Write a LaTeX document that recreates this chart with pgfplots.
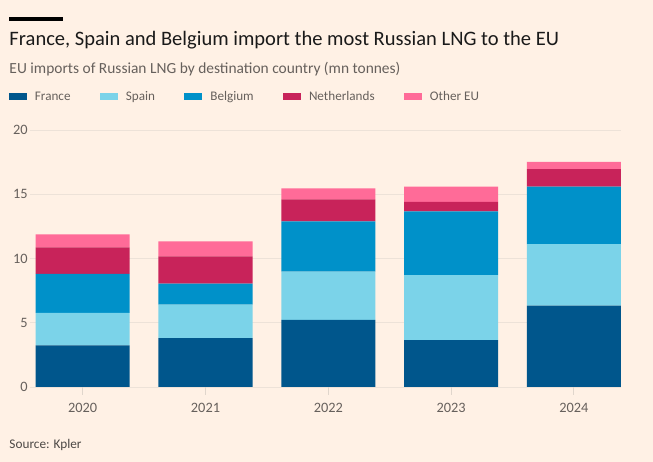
\documentclass[border=0pt]{standalone}
\usepackage{pgfplots}
\pgfplotsset{compat=1.18}
\usepackage{fontspec}
\setmainfont{Carlito}
\definecolor{bg}{HTML}{FFF1E5}
\definecolor{cfr}{HTML}{00568C}
\definecolor{csp}{HTML}{7BD3E9}
\definecolor{cbe}{HTML}{0091C9}
\definecolor{cnl}{HTML}{C8235A}
\definecolor{cot}{HTML}{FF6B98}
\definecolor{gridc}{HTML}{EDE2D8}
\definecolor{tickc}{HTML}{E0D6CC}
\definecolor{subc}{HTML}{66605C}
\definecolor{titlec}{HTML}{1A1A1A}
\begin{document}
\begin{tikzpicture}[x=1bp,y=1bp]
\fill[bg,use as bounding box] (0,0) rectangle (653,462);
\fill[black] (9,441.3) rectangle (62.7,445.3);
\node[anchor=base west,inner sep=0pt,text=titlec,font=\fontsize{20.6}{24}\selectfont] at (9.3,416.3) {France, Spain and Belgium import the most Russian LNG to the EU};
\node[anchor=base west,inner sep=0pt,text=subc,font=\fontsize{15.5}{18}\selectfont] at (9.3,388) {EU imports of Russian LNG by destination country (mn tonnes)};
\node[anchor=base west,inner sep=0pt,text=subc!75!black,font=\fontsize{13.3}{16}\selectfont] at (9.3,13.7) {Source: Kpler};
\coordinate (AO) at (82.7,75);
\begin{axis}[
  at={(AO)}, anchor=origin,
  scale only axis, width=591bp, height=257bp,
  xmin=-0.43, xmax=4.383, ymin=0, ymax=20,
  ybar stacked, bar width=0.766,
  xtick={0,1,2,3,4},
  xticklabels={2020,2021,2022,2023,2024},
  ytick={0,5,10,15,20},
  xtick pos=bottom, ytick pos=left,
  tick align=outside,
  major tick length=8bp,
  xtick style={draw=tickc,line width=0.8bp},
  ytick style={draw=none},
  axis line style={draw=none},
  ymajorgrids, grid style={draw=gridc,line width=0.8bp},
  /pgf/number format/assume math mode=true,
  ticklabel style={font=\fontsize{14.4}{16}\selectfont,text=subc},
  yticklabel style={inner sep=0pt,xshift=6bp},
  xticklabel style={inner sep=0pt,yshift=-8bp},
  legend columns=5,
  legend style={at={(-0.0355,1.1296)},anchor=west,draw=none,fill=none,
    inner sep=0pt,outer sep=0pt,
    font=\fontsize{13.2}{15}\selectfont,text=subc,
    nodes={inner sep=0pt},
    /tikz/every even column/.append style={column sep=29.3bp}},
  legend cell align=left,
  legend image code/.code={\fill[#1] (0bp,-3.35bp) rectangle (17.7bp,3.35bp); \path (26bp,0bp);},
]
\addplot[fill=cfr,draw=none] coordinates {(0,3.23) (1,3.80) (2,5.23) (3,3.65) (4,6.33)};
\addplot[fill=csp,draw=none] coordinates {(0,2.53) (1,2.61) (2,3.75) (3,5.05) (4,4.79)};
\addplot[fill=cbe,draw=none] coordinates {(0,3.04) (1,1.64) (2,3.91) (3,4.97) (4,4.48)};
\addplot[fill=cnl,draw=none] coordinates {(0,2.06) (1,2.11) (2,1.72) (3,0.73) (4,1.35)};
\addplot[fill=cot,draw=none] coordinates {(0,1.01) (1,1.17) (2,0.84) (3,1.20) (4,0.57)};
\legend{France,Spain,Belgium,Netherlands,Other EU}
\end{axis}
\end{tikzpicture}
\end{document}
